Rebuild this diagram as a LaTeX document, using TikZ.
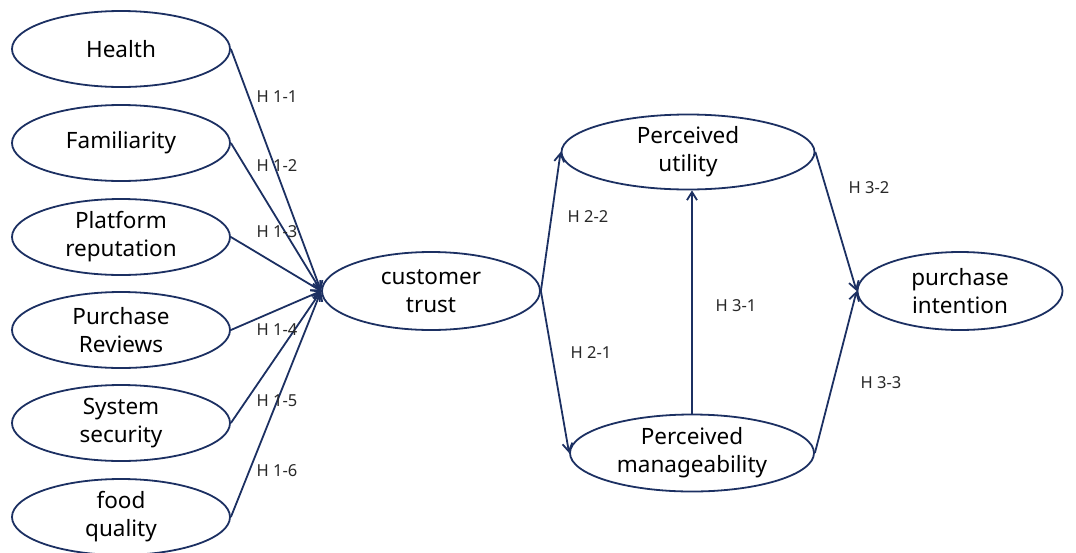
\documentclass[tikz,border=0pt]{standalone}
\usepackage{fontspec}
\setmainfont{Noto Sans}
\usetikzlibrary{arrows.meta,shapes.geometric}
\definecolor{edgeblue}{RGB}{28,48,98}
\definecolor{hyptext}{RGB}{40,40,40}

\begin{document}
\begin{tikzpicture}[x=1pt,y=-1pt]
 \tikzstyle{var}=[draw=edgeblue,ellipse,line width=1.8pt,inner sep=0pt,align=center,font=\fontsize{22.5}{28}\selectfont]
 \tikzstyle{hyp}=[text=hyptext,font=\fontsize{16.5}{19}\selectfont]
 \tikzstyle{link}=[draw=edgeblue,line width=1.8pt,-{Straight Barb[length=8pt,width=10pt]}]
 \useasboundingbox (0,0) rectangle (1076,552);
 % antecedents
	\node[var,minimum width=218,minimum height=76] at (121,49) (HE) {Health};
	\node[var,minimum width=218,minimum height=76] at (121,143) (FA) {Familiarity};
	\node[var,minimum width=218,minimum height=76] at (121,237) (PR) {Platform\\reputation};
	\node[var,minimum width=218,minimum height=76] at (121,330) (RV) {Purchase\\Reviews};
	\node[var,minimum width=218,minimum height=76] at (121,423) (SS) {System\\security};
	\node[var,minimum width=218,minimum height=76] at (121,517) (FQ) {food\\quality};
 % mediators and outcome
	\node[var,minimum width=218,minimum height=78] at (431,291) (CT) {customer\\trust};
	\node[var,minimum width=253,minimum height=75] at (688,152) (PU) {Perceived\\utility};
	\node[var,minimum width=244,minimum height=77] at (692,453) (PM) {Perceived\\manageability};
	\node[var,minimum width=205,minimum height=78] at (960,291) (PI) {purchase\\intention};
	 \draw[link] (HE.east) -- (CT.west);
	 \draw[link] (FA.east) -- (CT.west);
	 \draw[link] (PR.east) -- (CT.west);
	 \draw[link] (RV.east) -- (CT.west);
	 \draw[link] (SS.east) -- (CT.west);
	 \draw[link] (FQ.east) -- (CT.west);
	 \draw[link] (CT.east) -- (PU.west);
	 \draw[link] (CT.east) -- (PM.west);
	 \draw[link] (PM.north) -- (PM.north |- PU.south);
	 \draw[link] (PU.east) -- (PI.west);
	 \draw[link] (PM.east) -- (PI.west);
 % hypothesis labels
	\node[hyp] at (277,97) (H11) {H 1-1};
	\node[hyp] at (277,166) (H12) {H 1-2};
	\node[hyp] at (277,232) (H13) {H 1-3};
	\node[hyp] at (277,330) (H14) {H 1-4};
	\node[hyp] at (277,401) (H15) {H 1-5};
	\node[hyp] at (277,471) (H16) {H 1-6};
	\node[hyp] at (588,217) (H22) {H 2-2};
	\node[hyp] at (591,353) (H21) {H 2-1};
	\node[hyp] at (736,306) (H31) {H 3-1};
	\node[hyp] at (869,188) (H32) {H 3-2};
	\node[hyp] at (881,383) (H33) {H 3-3};
\end{tikzpicture}
\end{document}
